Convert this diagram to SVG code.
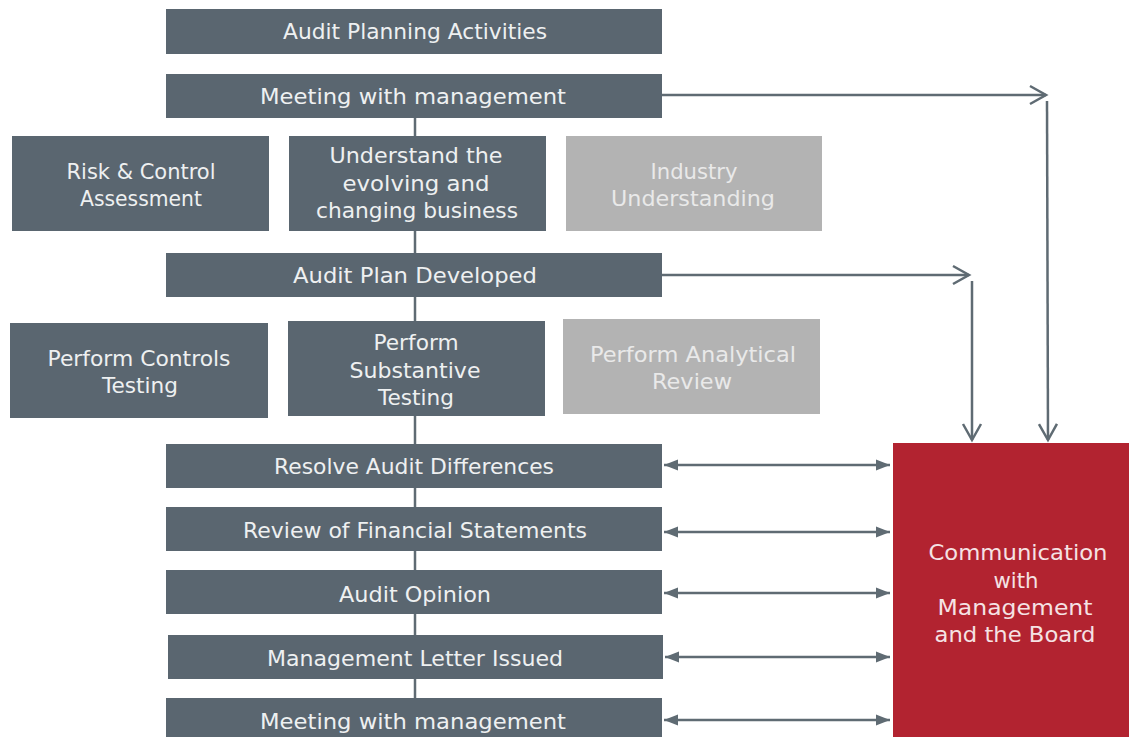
<svg xmlns="http://www.w3.org/2000/svg" width="1129" height="737" viewBox="0 0 1129 737">
  <style>
    .dark { fill: #5a6670; }
    .light { fill: #b3b3b3; }
    .red { fill: #b22330; }
    text { font-family: "DejaVu Sans", "Liberation Sans", sans-serif; font-size: 21px; text-anchor: middle; }
    .t-dark { fill: #eef0f1; }
    .t-light { fill: #e9e9e9; }
    .t-red { fill: #f5e2e4; }
    .conn { stroke: #5f6b73; stroke-width: 2.5; fill: none; }
  </style>
  <defs>
    <marker id="chev" markerUnits="userSpaceOnUse" markerWidth="20" markerHeight="22" refX="17" refY="10" orient="auto" viewBox="0 0 20 20">
      <path d="M1,1 L17,10 L1,19" fill="none" stroke="#5f6b73" stroke-width="2.5"/>
    </marker>
    <marker id="tri" markerUnits="userSpaceOnUse" markerWidth="16" markerHeight="12" refX="14" refY="6" orient="auto-start-reverse" viewBox="0 0 16 12">
      <path d="M0,0.5 L14,6 L0,11.5 Z" fill="#5f6b73"/>
    </marker>
  </defs>

  <!-- connectors -->
  <g id="connectors">
    <line class="conn" x1="415" y1="118" x2="415" y2="700"/>
    <line class="conn" x1="662" y1="95" x2="1046" y2="95" marker-end="url(#chev)"/>
    <line class="conn" x1="1047" y1="101" x2="1048" y2="440" marker-end="url(#chev)"/>
    <line class="conn" x1="662" y1="275" x2="969" y2="275" marker-end="url(#chev)"/>
    <line class="conn" x1="972" y1="281" x2="972" y2="440" marker-end="url(#chev)"/>
    <line class="conn" x1="664" y1="465" x2="890" y2="465" marker-start="url(#tri)" marker-end="url(#tri)"/>
    <line class="conn" x1="664" y1="532" x2="890" y2="532" marker-start="url(#tri)" marker-end="url(#tri)"/>
    <line class="conn" x1="664" y1="593" x2="890" y2="593" marker-start="url(#tri)" marker-end="url(#tri)"/>
    <line class="conn" x1="665" y1="657" x2="890" y2="657" marker-start="url(#tri)" marker-end="url(#tri)"/>
    <line class="conn" x1="664" y1="720" x2="890" y2="720" marker-start="url(#tri)" marker-end="url(#tri)"/>
  </g>

  <g id="audit-planning">
    <rect class="dark" x="166" y="9" width="496" height="45"/>
    <text class="t-dark" x="415" y="39" textLength="264" lengthAdjust="spacingAndGlyphs">Audit Planning Activities</text>
  </g>
  <g id="meeting-1">
    <rect class="dark" x="166" y="74" width="496" height="44"/>
    <text class="t-dark" x="413" y="104" textLength="306" lengthAdjust="spacingAndGlyphs">Meeting with management</text>
  </g>
  <g id="risk-control">
    <rect class="dark" x="12" y="136" width="257" height="95"/>
    <text class="t-dark" x="141" y="179" textLength="149" lengthAdjust="spacingAndGlyphs">Risk &amp; Control</text>
    <text class="t-dark" x="141" y="206" textLength="122" lengthAdjust="spacingAndGlyphs">Assessment</text>
  </g>
  <g id="understand-business">
    <rect class="dark" x="289" y="136" width="257" height="95"/>
    <text class="t-dark" x="416" y="163" textLength="173" lengthAdjust="spacingAndGlyphs">Understand the</text>
    <text class="t-dark" x="416" y="191" textLength="147" lengthAdjust="spacingAndGlyphs">evolving and</text>
    <text class="t-dark" x="417" y="218" textLength="202" lengthAdjust="spacingAndGlyphs">changing business</text>
  </g>
  <g id="industry">
    <rect class="light" x="566" y="136" width="256" height="95"/>
    <text class="t-light" x="694" y="179" textLength="87" lengthAdjust="spacingAndGlyphs">Industry</text>
    <text class="t-light" x="693" y="206" textLength="164" lengthAdjust="spacingAndGlyphs">Understanding</text>
  </g>
  <g id="audit-plan">
    <rect class="dark" x="166" y="253" width="496" height="44"/>
    <text class="t-dark" x="415" y="283" textLength="244" lengthAdjust="spacingAndGlyphs">Audit Plan Developed</text>
  </g>
  <g id="controls-testing">
    <rect class="dark" x="10" y="323" width="258" height="95"/>
    <text class="t-dark" x="139" y="366" textLength="183" lengthAdjust="spacingAndGlyphs">Perform Controls</text>
    <text class="t-dark" x="140" y="393" textLength="76" lengthAdjust="spacingAndGlyphs">Testing</text>
  </g>
  <g id="substantive-testing">
    <rect class="dark" x="288" y="321" width="257" height="95"/>
    <text class="t-dark" x="416" y="350" textLength="85" lengthAdjust="spacingAndGlyphs">Perform</text>
    <text class="t-dark" x="415" y="378" textLength="131" lengthAdjust="spacingAndGlyphs">Substantive</text>
    <text class="t-dark" x="416" y="405" textLength="76" lengthAdjust="spacingAndGlyphs">Testing</text>
  </g>
  <g id="analytical-review">
    <rect class="light" x="563" y="319" width="257" height="95"/>
    <text class="t-light" x="693" y="362" textLength="206" lengthAdjust="spacingAndGlyphs">Perform Analytical</text>
    <text class="t-light" x="692" y="389" textLength="80" lengthAdjust="spacingAndGlyphs">Review</text>
  </g>
  <g id="resolve-differences">
    <rect class="dark" x="166" y="444" width="496" height="44"/>
    <text class="t-dark" x="414" y="474" textLength="280" lengthAdjust="spacingAndGlyphs">Resolve Audit Differences</text>
  </g>
  <g id="review-statements">
    <rect class="dark" x="166" y="507" width="496" height="44"/>
    <text class="t-dark" x="415" y="538" textLength="344" lengthAdjust="spacingAndGlyphs">Review of Financial Statements</text>
  </g>
  <g id="audit-opinion">
    <rect class="dark" x="166" y="570" width="496" height="44"/>
    <text class="t-dark" x="415" y="602" textLength="152" lengthAdjust="spacingAndGlyphs">Audit Opinion</text>
  </g>
  <g id="management-letter">
    <rect class="dark" x="168" y="635" width="495" height="44"/>
    <text class="t-dark" x="415" y="666" textLength="296" lengthAdjust="spacingAndGlyphs">Management Letter Issued</text>
  </g>
  <g id="meeting-2">
    <rect class="dark" x="166" y="698" width="496" height="45"/>
    <text class="t-dark" x="413" y="729" textLength="306" lengthAdjust="spacingAndGlyphs">Meeting with management</text>
  </g>
  <g id="communication">
    <rect class="red" x="893" y="443" width="240" height="300"/>
    <text class="t-red" x="1018" y="560" textLength="179" lengthAdjust="spacingAndGlyphs">Communication</text>
    <text class="t-red" x="1016" y="588" textLength="45" lengthAdjust="spacingAndGlyphs">with</text>
    <text class="t-red" x="1015" y="615" textLength="155" lengthAdjust="spacingAndGlyphs">Management</text>
    <text class="t-red" x="1015" y="642" textLength="161" lengthAdjust="spacingAndGlyphs">and the Board</text>
  </g>
</svg>
